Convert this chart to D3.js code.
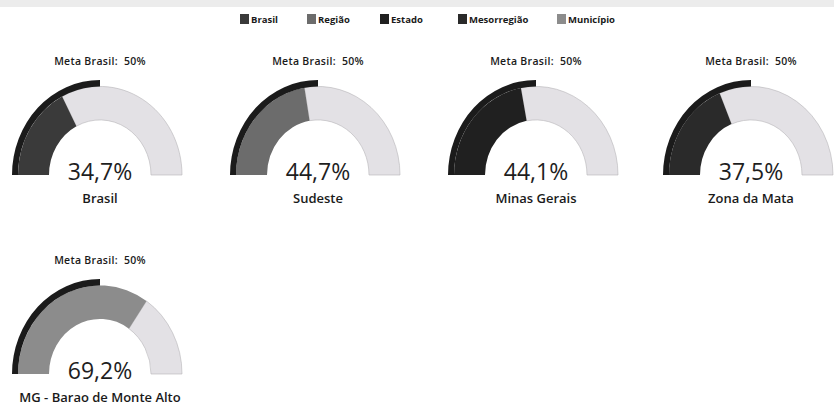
<!DOCTYPE html>
<html>
<head>
<meta charset="utf-8">
<script src="https://cdn.jsdelivr.net/npm/d3@7"></script>
<style>
  body { margin: 0; background: #fff; }
  svg { display: block; font-family: "Open Sans", "Noto Sans", sans-serif; }
</style>
</head>
<body>
<svg></svg>
<script>
var width = 834, height = 405;

// data
var legendNames = ["Brasil", "Região", "Estado", "Mesorregião", "Município"];
var gaugeNames = ["Brasil", "Sudeste", "Minas Gerais", "Zona da Mata", "MG - Barao de Monte Alto"];
var gaugeLevels = ["Brasil", "Região", "Estado", "Mesorregião", "Município"];
var gaugeValues = [34.7, 44.7, 44.1, 37.5, 69.2];
var metaValue = 50;
var metaLabel = "Meta Brasil:  50%";

var levelColor = d3.scaleOrdinal()
    .domain(legendNames)
    .range(["#3a3a3a", "#6c6c6c", "#202020", "#2a2a2a", "#8c8c8c"]);
var restColor = "#e3e1e5";
var metaColor = "#1b1b1b";

var svg = d3.select("svg").attr("width", width).attr("height", height);

// faint scan band at the top
svg.append("rect").attr("x", 0).attr("y", 0).attr("width", width).attr("height", 7)
   .attr("fill", "#ececec");

// legend
var legendX = d3.scaleOrdinal().domain(legendNames).range([240, 307, 380, 458, 557]);
var lg = svg.append("g").selectAll("g").data(legendNames).enter().append("g")
    .attr("transform", function(d) { return "translate(" + legendX(d) + ",14)"; });
lg.append("rect").attr("width", 9).attr("height", 10).attr("fill", function(d) { return levelColor(d); });
lg.append("text").attr("x", 11).attr("y", 9).attr("font-size", 9.5).attr("font-weight", 700)
  .attr("fill", "#1a1a1a").text(function(d) { return d; });

// gauges
var angle = d3.scaleLinear().domain([0, 100]).range([-Math.PI / 2, Math.PI / 2]);
var rIn = 51, rOut = 82, rMeta = 88;
var band = d3.arc().innerRadius(rIn).outerRadius(rOut);
var metaArc = d3.arc().innerRadius(rOut).outerRadius(rMeta);

var centers = [[100, 175], [318, 175], [536, 175], [751, 175], [100, 374]];
var fmt = function(v) { return d3.format(".1f")(v).replace(".", ",") + "%"; };

var g = svg.append("g").selectAll("g").data(gaugeValues).enter().append("g")
    .attr("transform", function(d, i) { return "translate(" + centers[i][0] + "," + centers[i][1] + ")"; });

var arcs = g.append("g").attr("transform", "scale(1,1.08)");
arcs.append("path")
    .attr("d", function(d) { return band({startAngle: angle(d), endAngle: angle(100)}); })
    .attr("fill", restColor).attr("stroke", "#b8b6ba").attr("stroke-width", 0.6);
arcs.append("path")
    .attr("d", function(d) { return band({startAngle: angle(0), endAngle: angle(d)}); })
    .attr("fill", function(d, i) { return levelColor(gaugeLevels[i]); });
arcs.append("path")
    .attr("d", metaArc({startAngle: angle(0), endAngle: angle(metaValue)}))
    .attr("fill", metaColor);

g.append("text").attr("text-anchor", "middle").attr("y", -110).attr("xml:space", "preserve")
  .attr("font-size", 10.5).attr("font-weight", 600).attr("letter-spacing", 0.3).attr("fill", "#1a1a1a")
  .style("white-space", "pre")
  .text(metaLabel);
g.append("text").attr("text-anchor", "middle").attr("y", 5)
  .attr("font-size", 23).attr("fill", "#1e1e1e")
  .text(function(d) { return fmt(d); });
g.append("text").attr("text-anchor", "middle").attr("y", 28)
  .attr("font-size", 13).attr("font-weight", 600).attr("fill", "#1a1a1a")
  .text(function(d, i) { return gaugeNames[i]; });
</script>
</body>
</html>
